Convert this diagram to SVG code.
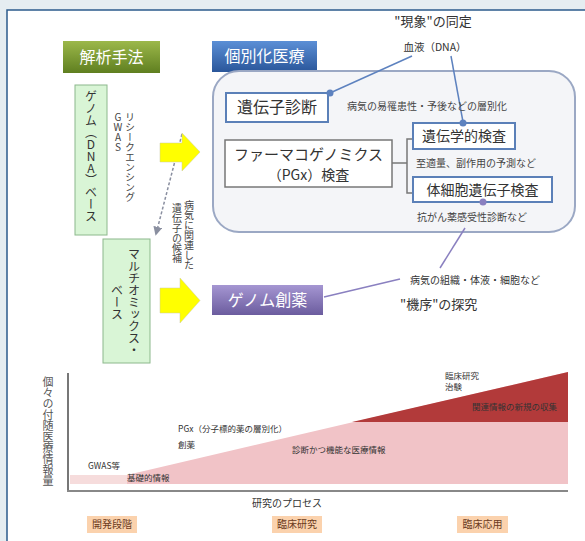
<svg xmlns="http://www.w3.org/2000/svg" width="585" height="541" viewBox="0 0 585 541">
<style>
text{font-family:"Noto Sans CJK JP","Noto Sans",sans-serif;fill:#333}
.lbl{fill:#fff;font-size:16px}
.vt{writing-mode:vertical-rl;text-orientation:upright;font-size:11px;fill:#444}
.sm{font-size:10px;fill:#444}
.box{fill:#fff;stroke:#5b80b8;stroke-width:2}
.stage{fill:#fbd2ad}
.stg{font-size:10px;fill:#6a3a20}
</style>
<defs>
<linearGradient id="gG" x1="0" y1="0" x2="0" y2="1"><stop offset="0" stop-color="#9cb84a"/><stop offset="1" stop-color="#5f7f20"/></linearGradient>
<linearGradient id="gB" x1="0" y1="0" x2="0" y2="1"><stop offset="0" stop-color="#5b8fd6"/><stop offset="1" stop-color="#2a569a"/></linearGradient>
<linearGradient id="gP" x1="0" y1="0" x2="0" y2="1"><stop offset="0" stop-color="#a596d2"/><stop offset="1" stop-color="#6b5c9e"/></linearGradient>
<marker id="ah" viewBox="0 0 10 10" refX="8" refY="5" markerWidth="6" markerHeight="6" orient="auto"><path d="M0,0L10,5L0,10z" fill="#8a8fa0"/></marker>
</defs>
<rect width="585" height="541" fill="#e5edf1"/>
<rect x="7" y="10" width="590" height="540" fill="#fff" stroke="#2b5b8c" stroke-width="1.5"/>

<g id="label-kaiseki"><rect x="63" y="41" width="97" height="32" fill="url(#gG)"/><text class="lbl" x="111.5" y="63" text-anchor="middle">解析手法</text></g>
<g id="label-kobetsu"><rect x="212" y="41" width="105" height="31" fill="url(#gB)"/><text class="lbl" x="264.5" y="62" text-anchor="middle">個別化医療</text></g>

<g id="personalized-area"><rect x="213" y="71" width="362" height="161" rx="26" fill="#f4f5f8" stroke="#9ba8c4" stroke-width="2"/></g>

<g id="phenomenon">
<text x="433" y="26" text-anchor="middle" font-size="13" fill="#333">"現象"の同定</text>
<text x="435" y="51" text-anchor="middle" font-size="10.5" fill="#7a96d6">血液（DNA）</text>
</g>

<g id="connectors" fill="none">
<line x1="412" y1="56" x2="330" y2="93" stroke="#5d82bf" stroke-width="1.5"/>
<line x1="451" y1="56" x2="463" y2="122" stroke="#5d82bf" stroke-width="1.5"/>
<polyline points="392,163 407,163" stroke="#777" stroke-width="1.5"/>
<polyline points="413,139 407,139 407,193 413,193" stroke="#777" stroke-width="1.5"/>
<line x1="465" y1="228" x2="440" y2="268" stroke="#8a80c0" stroke-width="1.5"/>
<line x1="324" y1="297" x2="400" y2="279" stroke="#8a80c0" stroke-width="1.5"/>
<line x1="182" y1="134" x2="156" y2="234" stroke="#8a8fa0" stroke-width="1.5" stroke-dasharray="3,2" marker-end="url(#ah)"/>
</g>

<g id="idenshi-shindan"><rect class="box" x="226" y="93" width="102" height="29"/><text x="277" y="113" text-anchor="middle" font-size="16" fill="#222">遺伝子診断</text><circle cx="330" cy="93" r="3.5" fill="#5d82bf"/></g>
<text class="sm" x="347" y="110">病気の易罹患性・予後などの層別化</text>

<g id="pgx"><rect x="225" y="140" width="167" height="47" fill="#fff" stroke="#777" stroke-width="1.5"/><text x="308.5" y="160" text-anchor="middle" font-size="15" fill="#333">ファーマコゲノミクス</text><text x="308.5" y="180" text-anchor="middle" font-size="14" fill="#333">（PGx）検査</text></g>

<g id="idengaku"><rect class="box" x="413" y="123" width="102" height="26"/><text x="464" y="141" text-anchor="middle" font-size="14" fill="#222">遺伝学的検査</text><circle cx="463" cy="123" r="3.5" fill="#5d82bf"/></g>
<text class="sm" x="416" y="167">至適量、副作用の予測など</text>

<g id="taisaibou"><rect class="box" x="413" y="177" width="139" height="25"/><text x="482.5" y="194.5" text-anchor="middle" font-size="14" fill="#222">体細胞遺伝子検査</text><circle cx="483" cy="202" r="3.5" fill="#8a80c0"/></g>
<text class="sm" x="417" y="221">抗がん薬感受性診断など</text>

<g id="mechanism">
<text x="410" y="284" font-size="10" fill="#9b90d2">病気の組織・体液・細胞など</text>
<text x="400" y="309" font-size="13" fill="#333">"機序"の探究</text>
</g>

<g id="genome-drug"><rect x="212" y="285" width="111" height="30" fill="url(#gP)"/><text class="lbl" x="267.5" y="306" text-anchor="middle">ゲノム創薬</text></g>

<g id="genome-base"><rect x="75" y="85" width="32" height="150" fill="#d9f5d6" stroke="#8cb88c" stroke-width="1"/><text class="vt" x="91" y="90" style="font-size:12px;fill:#333">ゲノム（DNA）ベース</text></g>
<g id="methods"><text class="vt" x="130" y="112" style="font-size:10px">リシークエンシング</text><text class="vt" x="118" y="112" style="font-size:10px">GWAS</text></g>

<g id="arrow1"><path d="M160,143H182V133L200,152L182,171V162H160Z" fill="#ffff00" stroke="#c8c8a0" stroke-width="0.5"/></g>
<g id="arrow2"><path d="M160,288H180V278L200,300.5L180,323V313H160Z" fill="#ffff00" stroke="#c8c8a0" stroke-width="0.5"/></g>

<g id="candidate"><text class="vt" x="189" y="200" style="font-size:10px">病気に関連した</text><text class="vt" x="177" y="203" style="font-size:10px">遺伝子の候補</text></g>

<g id="multiomics-base"><rect x="103" y="239" width="47" height="124" fill="#d9f5d6" stroke="#8cb88c" stroke-width="1"/><text class="vt" x="134" y="248" style="font-size:12px;fill:#333">マルチオミックス・</text><text class="vt" x="117" y="284" style="font-size:12px;fill:#333">ベース</text></g>

<g id="chart">
<polygon points="70,475 568,475 568,484 70,484" fill="#f6dcdc"/>
<polygon points="127,475 568,372 568,484 127,484" fill="#f1c3c7"/>
<polygon points="352,422 568,372 568,422" fill="#b23a3a"/>
<line x1="68" y1="373" x2="68" y2="491" stroke="#777" stroke-width="2"/>
<line x1="67" y1="491" x2="568" y2="491" stroke="#888" stroke-width="2"/>
<text class="vt" x="48" y="376" style="font-size:11px;fill:#555">個々の付随医療情報量</text>
<text x="88" y="469" font-size="8.5" fill="#555">GWAS等</text>
<text x="127" y="481" font-size="8.5" fill="#7a3030">基礎的情報</text>
<text x="178" y="432" font-size="8.5" fill="#555">PGx（分子標的薬の層別化）</text>
<text x="178" y="448" font-size="8.5" fill="#555">創薬</text>
<text x="292" y="453" font-size="8.5" fill="#7a3030">診断かつ機能な医療情報</text>
<text x="445" y="379" font-size="8.5" fill="#555">臨床研究</text>
<text x="445" y="390" font-size="8.5" fill="#555">治験</text>
<text x="472" y="410" font-size="8.5" fill="#fff">関連情報の新規の収集</text>
<text x="287" y="507" text-anchor="middle" font-size="10" fill="#555">研究のプロセス</text>
</g>

<g id="stage1"><rect class="stage" x="87" y="516" width="50" height="17"/><text class="stg" x="112" y="528" text-anchor="middle">開発段階</text></g>
<g id="stage2"><rect class="stage" x="272" y="516" width="50" height="17"/><text class="stg" x="297" y="528" text-anchor="middle">臨床研究</text></g>
<g id="stage3"><rect class="stage" x="457" y="516" width="51" height="17"/><text class="stg" x="482.5" y="528" text-anchor="middle">臨床応用</text></g>
</svg>
